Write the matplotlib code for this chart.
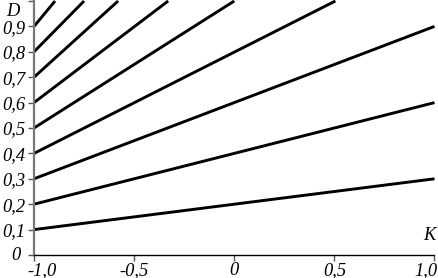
import matplotlib
matplotlib.use("Agg")
import matplotlib.pyplot as plt
from matplotlib.font_manager import FontProperties
import matplotlib.transforms as mtransforms

# Data: straight lines D(K) from K=-1
d_start = [0.1, 0.2, 0.3, 0.4, 0.5, 0.6, 0.7, 0.8, 0.9]
k_start = [-1.0] * 9
k_end = [1.0, 1.0, 1.0, 0.505, 0.0, -0.33, -0.58, -0.75, -0.895]
d_end = [0.3, 0.6, 0.9, 1.0, 1.0, 1.0, 1.0, 1.0, 1.0]

x_ticks = [-1.0, -0.5, 0.0, 0.5, 1.0]
x_labels = ["-1,0", "-0,5", "0", "0,5", "1,0"]
y_ticks = [0.0, 0.1, 0.2, 0.3, 0.4, 0.5, 0.6, 0.7, 0.8, 0.9, 1.0]
y_labels = ["0", "0,1", "0,2", "0,3", "0,4", "0,5", "0,6", "0,7", "0,8", "0,9", "D"]

fp = FontProperties(family='Liberation Serif', style='italic', size=13.3)

fig = plt.figure(figsize=(4.38, 2.78), dpi=100)
ax = fig.add_axes([34/438, 1 - 255/278, (434.5 - 34)/438, 254/278])

for ks, ds, ke, de in zip(k_start, d_start, k_end, d_end):
    ax.plot([ks, ke], [ds, de], color='black', lw=2.1, solid_capstyle='butt', clip_on=False)

ax.set_xlim(-1.0, 1.0)
ax.set_ylim(0.0, 1.0)
ax.spines['top'].set_visible(False)
ax.spines['right'].set_visible(False)
ax.spines['left'].set_color('#777777')
ax.spines['left'].set_linewidth(1.6)
ax.spines['bottom'].set_color('black')
ax.spines['bottom'].set_linewidth(1.0)

ax.set_xticks(x_ticks)
ax.set_xticklabels(x_labels)
ax.set_yticks(y_ticks)
ax.set_yticklabels(y_labels)
ax.tick_params(axis='x', direction='out', length=4, width=1, color='#555555', pad=1)
ax.tick_params(axis='y', direction='out', length=4, width=1, color='#555555', pad=2)

for lab in ax.get_xticklabels() + ax.get_yticklabels():
    lab.set_fontproperties(fp)

# nudge end labels inward as in the reference
xl = ax.get_xticklabels()
xl[0].set_transform(xl[0].get_transform() + mtransforms.ScaledTranslation(8/100, 0, fig.dpi_scale_trans))
xl[-1].set_transform(xl[-1].get_transform() + mtransforms.ScaledTranslation(-9/100, 0, fig.dpi_scale_trans))
yl = ax.get_yticklabels()
yl[0].set_transform(yl[0].get_transform() + mtransforms.ScaledTranslation(-5/100, 2/100, fig.dpi_scale_trans))
yl[-1].set_transform(yl[-1].get_transform() + mtransforms.ScaledTranslation(-6/100, -8/100, fig.dpi_scale_trans))

ax.text(0.975, 0.045, "K", fontproperties=fp, ha='center', va='bottom')

fig.savefig("out.png", dpi=100)
